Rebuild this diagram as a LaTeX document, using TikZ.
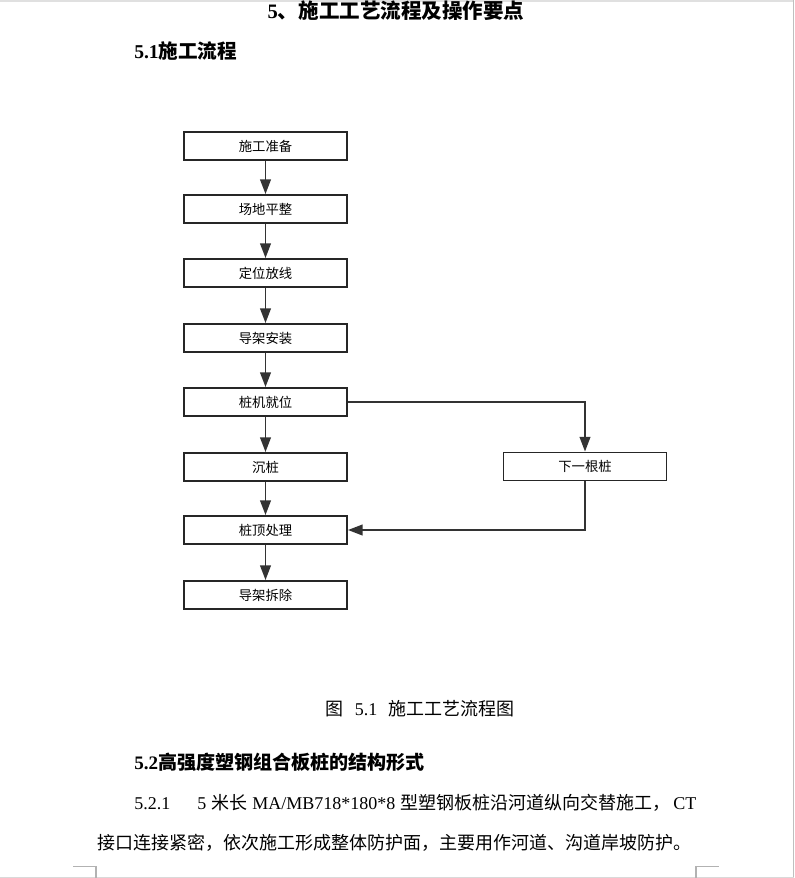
\documentclass[tikz,border=0pt]{standalone}
\usepackage{fontspec}
\setmainfont{Liberation Serif}
\newfontfamily\cjk{Noto Sans CJK SC}
\usepackage{tikz}
\usetikzlibrary{arrows.meta}

\newcommand{\hz}[1]{{\cjk #1}}
\tikzset{
	stepbox/.style={draw=black!85, line width=1.4pt, minimum width=122.25pt, minimum height=21pt, inner sep=0pt, font=\cjk\fontsize{10pt}{12pt}\selectfont},
	flow/.style={draw=black!80, line width=1.4pt, -{Triangle[length=11pt,width=8pt]}},
	pagetext/.style={inner sep=0pt, anchor=west, font=\fontsize{13.5pt}{16pt}\selectfont},
	pagemark/.style={draw=black!30, line width=0.8pt}
}

\begin{document}
\begin{tikzpicture}[x=0.75pt,y=-0.75pt]
		\useasboundingbox (0,0) rectangle (794,878);
		% page edges
		\draw [black!12, line width=1.5pt] (0,1) -- (794,1);
		\draw [black!25, line width=1pt] (793.5,0) -- (793.5,878);
		\draw [black!15, line width=1pt] (0,877.5) -- (794,877.5);
		% headings
		\node [inner sep=0pt, font=\fontsize{15.4pt}{18pt}\selectfont\bfseries] (title) at (396,11) {5\hz{、施工工艺流程及操作要点}};
		\node [pagetext, font=\fontsize{14.7pt}{18pt}\selectfont\bfseries] (sec51) at (134,51) {5.1\hz{施工流程}};
		% flow chart
		\node [stepbox] (zb) at (265.5,146) {施工准备};
		\node [stepbox] (pz) at (265.5,209) {场地平整};
		\node [stepbox] (fx) at (265.5,273) {定位放线};
		\node [stepbox] (az) at (265.5,338) {导架安装};
		\node [stepbox] (jw) at (265.5,402) {桩机就位};
		\node [stepbox] (cz) at (265.5,467) {沉桩};
		\node [stepbox] (cl) at (265.5,530) {桩顶处理};
		\node [stepbox] (cc) at (265.5,595) {导架拆除};
		\node [stepbox] (xy) at (585,466.5) {下一根桩};
		\foreach \a/\b in {zb/pz, pz/fx, fx/az, az/jw, jw/cz, cz/cl, cl/cc}
			\draw [flow] (\a) -- (\b);
		\draw [flow] (jw.east) -| (xy.north);
		\draw [flow] (xy.south) |- (cl.east);
		% caption and text
		\node [inner sep=0pt, font=\fontsize{13.5pt}{16pt}\selectfont] (cap) at (420,709) {\hz{图}\hspace{0.6em}5.1\hspace{0.6em}\hz{施工工艺流程图}};
		\node [pagetext, font=\fontsize{14.3pt}{18pt}\selectfont\bfseries] (sec52) at (134,762) {5.2\hz{高强度塑钢组合板桩的结构形式}};
		\node [pagetext] (line1) at (134,803) {5.2.1\hspace{1.5em}5\;\hz{米长}\;MA/MB718*180*8\;\hz{型塑钢板桩沿河道纵向交替施工，}\,CT};
		\node [pagetext] (line2) at (97,843) {\hz{接口连接紧密，依次施工形成整体防护面，主要用作河道、沟道岸坡防护。}};
		% corner marks
		\draw [pagemark] (73,866.5) -- (96,866.5) -- (96,878);
		\draw [pagemark] (696,878) -- (696,866.5) -- (719,866.5);
	\end{tikzpicture}
\end{document}
